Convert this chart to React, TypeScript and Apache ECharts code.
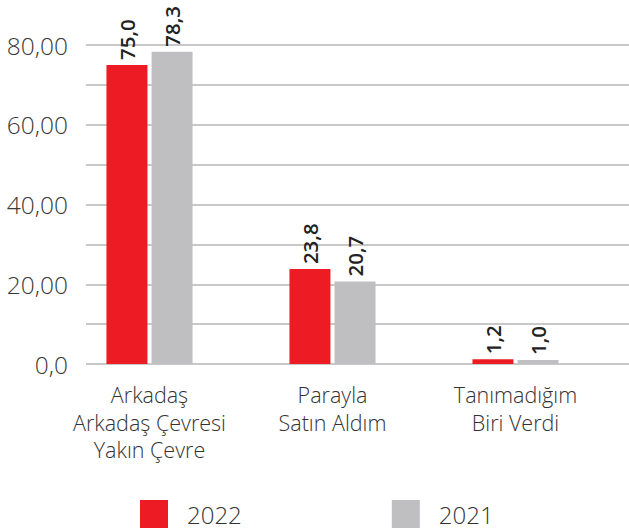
import React, { useEffect, useRef } from "react";
import * as echarts from "echarts";

const categories = ["Arkadaş\nArkadaş Çevresi\nYakın Çevre", "Parayla\nSatın Aldım", "Tanımadığım\nBiri Verdi"];
const seriesNames = ["2022", "2021"];
const values2022 = [75.0, 23.8, 1.2];
const values2021 = [78.3, 20.7, 1.0];
const yTickLabels = ["0,0", "", "20,00", "", "40,00", "", "60,00", "", "80,00"];

const RED = "#ED1C24";
const GRAY = "#BFBFC1";
const FONT = "'Open Sans', 'Noto Sans', sans-serif";

export default function App() {
  const ref = useRef<HTMLDivElement>(null);
  useEffect(() => {
    document.body.style.margin = "0";
    if (!ref.current) return;
    const chart = echarts.init(ref.current, undefined, { renderer: "svg" });
    const barLabel = {
      show: true,
      position: "top",
      rotate: 90,
      align: "left",
      verticalAlign: "middle",
      distance: 5,
      fontFamily: FONT,
      fontWeight: 600,
      fontSize: 20.5,
      color: "#222222",
      formatter: (p: any) => Number(p.value).toFixed(1).replace(".", ","),
    };
    chart.setOption({
      animation: false,
      grid: [
        { left: 58, width: 549, top: 45, height: 319 },
        { left: 86, right: 0, top: 45, height: 319 },
      ],
      legend: {
        data: seriesNames,
        left: 135,
        top: 495,
        itemWidth: 28,
        itemHeight: 28,
        itemGap: 150,
        icon: "rect",
        textStyle: { fontFamily: FONT, fontWeight: 300, fontSize: 24, lineHeight: 26, color: "#333333", padding: [0, 0, 0, 14] },
      },
      xAxis: [
        {
          gridIndex: 0,
          type: "category",
          data: categories,
          axisLine: { show: false },
          axisTick: { show: false },
          axisLabel: {
            margin: 17,
            fontFamily: FONT,
            fontWeight: 300,
            fontSize: 21.5,
            lineHeight: 27.5,
            color: "#333333",
            interval: 0,
          },
        },
        {
          gridIndex: 1,
          type: "category",
          data: categories,
          show: false,
        },
      ],
      yAxis: [
        { gridIndex: 0, type: "value", min: 0, max: 80, interval: 10, show: false },
        {
          gridIndex: 1,
          type: "value",
          min: 0,
          max: 80,
          interval: 10,
          axisLine: { show: false },
          axisTick: { show: false },
          splitLine: { lineStyle: { color: "#C8C8C8", width: 2 } },
          axisLabel: {
            margin: 18,
            fontFamily: FONT,
            fontWeight: 300,
            fontSize: 24.5,
            color: "#3A3A3A",
            formatter: (v: number) => yTickLabels[Math.round(v / 10)] ?? "",
          },
        },
      ],
      series: [
        {
          name: seriesNames[0],
          type: "bar",
          xAxisIndex: 0,
          yAxisIndex: 0,
          data: values2022,
          barWidth: 41,
          barGap: "10%",
          itemStyle: { color: RED },
          label: barLabel,
        },
        {
          name: seriesNames[1],
          type: "bar",
          xAxisIndex: 0,
          yAxisIndex: 0,
          data: values2021,
          barWidth: 41,
          barGap: "10%",
          itemStyle: { color: GRAY },
          label: barLabel,
        },
      ],
    });
    return () => chart.dispose();
  }, []);
  return <div ref={ref} style={{ width: 629, height: 532 }} />;
}
